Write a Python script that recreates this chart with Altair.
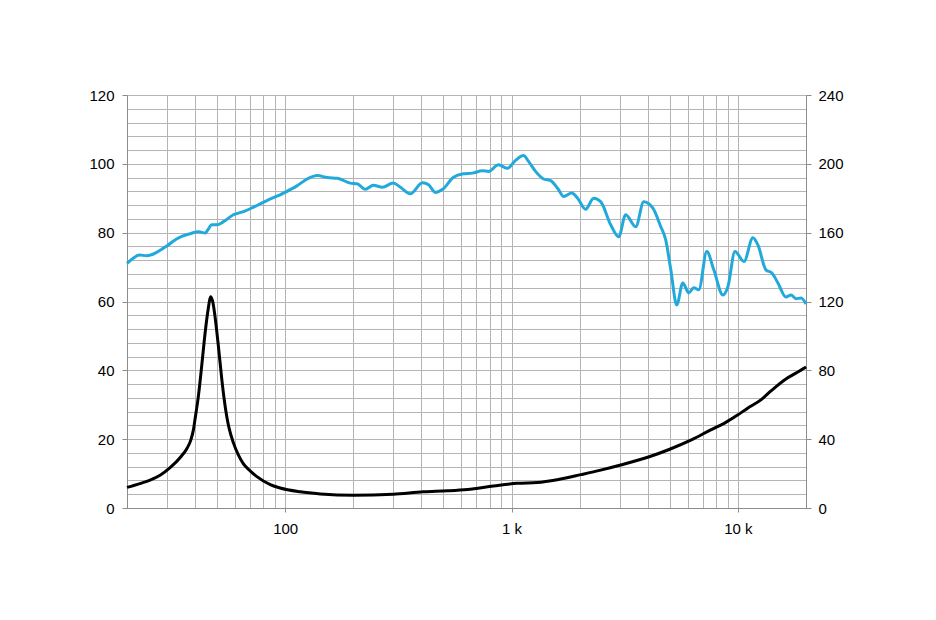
import altair as alt
import pandas as pd

# Blue curve (left axis)
spl_freq = [20, 21.3, 22.7, 24.5, 26.2, 28.5, 30.1, 32.1, 34.9, 38, 41.4, 44.3, 45.5, 47.4, 49.9,
            53.4, 59, 65.4, 72.4, 83, 98.3, 112.7, 125, 138.5, 153.5, 170, 194, 208, 226, 245,
            269, 300, 323, 357, 404, 430, 461, 496, 554, 613, 672, 744, 791, 876, 960, 1041,
            1130, 1189, 1277, 1385, 1488, 1598, 1700, 1843, 1959, 2125, 2306, 2476, 2742, 2975,
            3194, 3538, 3838, 4207, 4560, 4800, 5055, 5370, 5710, 6070, 6385, 6720, 7290, 7830,
            8590, 9035, 9710, 10640, 11650, 12250, 13300, 14130, 15030, 16300, 17170, 18060,
            19020, 20000]
spl_val = [71.1, 72.6, 73.5, 73.3, 73.8, 75.2, 76.2, 77.6, 78.9, 79.7, 80.3, 79.9, 80.8, 82.3, 82.3,
           83.2, 85.2, 86.1, 87.4, 89.3, 91.5, 93.6, 95.6, 96.6, 96.0, 95.8, 94.4, 94.2, 92.6, 93.8,
           93.2, 94.4, 93.2, 91.3, 94.5, 93.9, 91.7, 92.6, 96.1, 97.1, 97.3, 98.0, 97.8, 99.7, 98.7, 101.0,
           102.4, 100.7, 97.8, 95.6, 95.1, 92.9, 90.5, 91.5, 90.0, 86.8, 90.0, 89.0, 82.3, 78.8,
           85.2, 81.7, 89.0, 87.2, 81.8, 77.9, 69.2, 59.0, 65.4, 62.5, 64.0, 63.4, 74.5, 69.2,
           61.9, 64.3, 74.5, 71.6, 78.5, 76.5, 69.2, 68.3, 65.4, 61.3, 61.9, 60.8,
           61.0, 59.3]

# Black curve (drawn on the same 0-120 scale)
imp_freq = [20, 22.8, 25.3, 28, 31, 34.6, 36.8, 38.3, 39.3, 40.0, 41.4, 42.8, 44.3, 45.5, 46.9,
            48.0, 49.0, 50.7, 52.5, 53.7, 55.2, 56.5, 59, 62, 65.4, 70, 75, 85.9, 95, 116.5,
            143, 200, 300, 408, 521, 639, 832, 1063, 1300, 1592, 2030, 2476, 3035, 4060, 4970,
            6195, 7595, 8700, 9970, 11040, 12640, 14000, 16300, 18060, 19500, 20000]
imp_val = [6.0, 7.1, 8.1, 9.5, 11.7, 14.9, 17.3, 19.8, 22.7, 26.0, 32.8, 41.5, 51.0, 57.0, 61.4,
           59.5, 55.5, 46.9, 37.2, 31.8, 26.5, 23.2, 19.0, 15.5, 12.8, 10.8, 9.1, 6.8, 5.8, 4.7,
           4.1, 3.7, 4.0, 4.7, 5.0, 5.4, 6.4, 7.2, 7.4, 8.2, 9.7, 11.0, 12.5, 14.9, 17.0,
           19.7, 22.7, 24.6, 27.0, 29.0, 31.4, 34.0, 37.5, 39.2, 40.5, 41.0]

x_grid = [20, 30, 40, 50, 60, 70, 80, 90, 100, 200, 300, 400, 500, 600, 700, 800, 900,
          1000, 2000, 3000, 4000, 5000, 6000, 7000, 8000, 9000, 10000, 20000]
y_grid = list(range(0, 121, 4))
right_vals = list(range(0, 121, 20))

df_spl = pd.DataFrame({"f": spl_freq, "v": spl_val})
df_imp = pd.DataFrame({"f": imp_freq, "v": imp_val})

FONT = "Liberation Sans"
GRID = "#b4b4b4"
DOM = "#8c8c8c"
FS = 15

x_enc = alt.X(
    "f:Q",
    scale=alt.Scale(type="log", domain=[20, 20000], nice=False),
    axis=alt.Axis(
        values=x_grid, title=None, grid=True, gridColor=GRID, gridWidth=1,
        domainColor=DOM, tickColor=DOM, tickSize=4,
        tickOpacity={"condition": {"test": "datum.value == 100 || datum.value == 1000 || datum.value == 10000", "value": 1}, "value": 0},
        labelExpr="datum.value == 100 ? '100' : datum.value == 1000 ? '1 k' : datum.value == 10000 ? '10 k' : ''",
        labelFont=FONT, labelFontSize=FS, labelColor="#000000", labelPadding=9,
    ),
)

blue = alt.Chart(df_spl).mark_line(color="#22a9dc", strokeWidth=3, interpolate="monotone").encode(
    x=x_enc,
    y=alt.Y("v:Q", scale=alt.Scale(domain=[0, 120], nice=False),
            axis=alt.Axis(orient="left", values=y_grid, title=None, grid=True, gridColor=GRID, gridWidth=1,
                          domainColor=DOM, tickColor=DOM, tickSize=5,
                          tickOpacity={"condition": {"test": "datum.value % 20 == 0", "value": 1}, "value": 0},
                          labelExpr="datum.value % 20 == 0 ? datum.label : ''",
                          labelFont=FONT, labelFontSize=FS, labelColor="#000000", labelPadding=8)),
)

black = alt.Chart(df_imp).mark_line(color="#000000", strokeWidth=3, interpolate="monotone").encode(
    x=x_enc,
    y=alt.Y("v:Q", scale=alt.Scale(domain=[0, 120], nice=False),
            axis=alt.Axis(orient="right", values=right_vals, title=None, grid=False,
                          domainColor=DOM, tickColor=DOM, tickSize=5,
                          labelExpr="format(datum.value * 2, 'd')",
                          labelFont=FONT, labelFontSize=FS, labelColor="#000000", labelPadding=7)),
)

chart = alt.layer(blue, black).resolve_axis(y="independent").properties(
    width=679, height=413,
    autosize=alt.AutoSizeParams(type="none"),
    padding={"left": 119, "top": 87, "right": 100, "bottom": 100},
).configure_view(stroke=None).configure(background="white")

chart.save("out.html", embed_options={"renderer": "svg", "actions": False})
